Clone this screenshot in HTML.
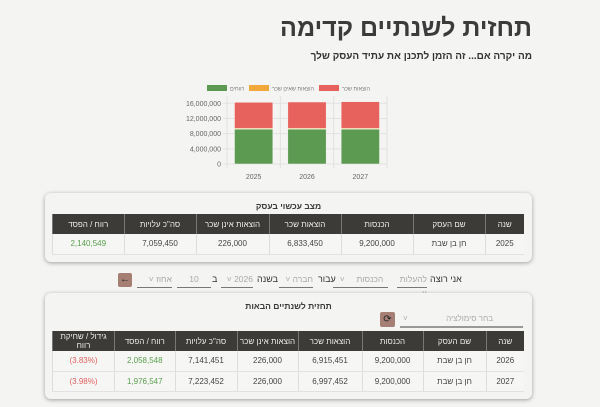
<!DOCTYPE html>
<html><head><meta charset="utf-8"><style>
*{box-sizing:border-box;margin:0;padding:0}
body{width:600px;height:407px;background:#f4f4f2;font-family:"Liberation Sans","Noto Sans CJK JP",sans-serif;color:#3a3a3a;position:relative;overflow:hidden}
.abs{position:absolute}
.card{position:absolute;background:#f4f4f2;border-radius:6px;box-shadow:0 1px 4px rgba(0,0,0,.35)}
table{position:absolute;border-collapse:collapse;direction:rtl;font-size:8px;table-layout:fixed}
th{background:#3d3b38;color:#eee;font-weight:normal;height:20px;border-left:1px solid #777}
td{height:20px;text-align:center;color:#444;border-left:1px solid #ddd;border-bottom:1px solid #e2e2e2;background:#f6f6f4}
.g{color:#5aa04e}.r{color:#e06262}
.ctl{position:absolute;top:272px;height:16px;font-size:8.5px;color:#aaa;border-bottom:1px solid #777;direction:rtl;text-align:right;line-height:14px}
.lbl{position:absolute;top:274px;font-size:9px;color:#333;direction:rtl}
</style></head><body>
<div class="abs" style="right:68px;top:14px;font-size:25px;font-weight:bold;direction:rtl;color:#3b3b3b">תחזית לשנתיים קדימה</div>
<div class="abs" style="right:68px;top:51px;font-size:10px;font-weight:bold;direction:rtl;color:#333">מה יקרה אם... זה הזמן לתכנן את עתיד העסק שלך</div>

<svg class="abs" style="left:180px;top:80px" width="220" height="110" id="chart"></svg>

<div class="card" style="left:45px;top:193px;width:487px;height:69px">
<div class="abs" style="left:0;right:0;top:8px;text-align:center;font-size:8.5px;font-weight:bold;direction:rtl">מצב עכשוי בעסק</div>
<table style="left:7px;top:21px;width:472px">
<colgroup><col style="width:39px"><col style="width:72px"><col style="width:72px"><col style="width:72px"><col style="width:73px"><col style="width:72px"><col></colgroup>
<tr><th>שנה</th><th>שם העסק</th><th>הכנסות</th><th>הוצאות שכר</th><th>הוצאות אינן שכר</th><th>סה"כ עלויות</th><th>רווח / הפסד</th></tr>
<tr><td>2025</td><td>חן בן שבת</td><td>9,200,000</td><td>6,833,450</td><td>226,000</td><td>7,059,450</td><td class="g">2,140,549</td></tr>
</table></div>

<div class="lbl" style="left:430px">אני רוצה</div>
<div class="ctl" style="left:397px;width:30px">להעלות ˅</div>
<div class="ctl" style="left:333px;width:55px">&nbsp;&nbsp;הכנסות&nbsp;&nbsp;&nbsp;&nbsp;&nbsp;˅</div>
<div class="lbl" style="left:318px">עבור</div>
<div class="ctl" style="left:279px;width:34px">חברה ˅</div>
<div class="lbl" style="left:257px">בשנה</div>
<div class="ctl" style="left:221px;width:32px">2026 ˅</div>
<div class="lbl" style="left:212px">ב</div>
<div class="ctl" style="left:177px;width:34px;text-align:center">10</div>
<div class="ctl" style="left:137px;width:35px">אחוז ˅</div>
<div class="abs" style="left:118px;top:273px;width:14px;height:14px;background:#a57f74;border-radius:2px;color:#222;font-size:10px;line-height:14px;text-align:center">←</div>

<div class="card" style="left:45px;top:293px;width:487px;height:106px">
<div class="abs" style="left:0;right:0;top:8px;text-align:center;font-size:8.5px;font-weight:bold;direction:rtl">תחזית לשנתיים הבאות</div>
<div class="abs" style="left:355px;top:19px;width:123px;height:16px;border-bottom:2px solid #999;font-size:8px;color:#aaa;line-height:14px;direction:rtl"><span style="position:absolute;right:30px">בחר סימולציה</span><span style="position:absolute;left:3px">˅</span></div>
<div class="abs" style="left:335px;top:19px;width:15px;height:15px;background:#a57f74;border-radius:2px;font-size:10px;line-height:15px;text-align:center;color:#222">⟳</div>
<table style="left:7px;top:38px;width:472px">
<colgroup><col style="width:38px"><col style="width:63px"><col style="width:61px"><col style="width:64px"><col style="width:61px"><col style="width:62px"><col></colgroup>
<tr><th>שנה</th><th>שם העסק</th><th>הכנסות</th><th>הוצאות שכר</th><th>הוצאות אינן שכר</th><th>סה"כ עלויות</th><th>רווח / הפסד</th><th style="width:62px">גידול / שחיקת רווח</th></tr>
<tr><td>2026</td><td>חן בן שבת</td><td>9,200,000</td><td>6,915,451</td><td>226,000</td><td>7,141,451</td><td class="g">2,058,548</td><td class="r">(3.83%)</td></tr>
<tr><td>2027</td><td>חן בן שבת</td><td>9,200,000</td><td>6,997,452</td><td>226,000</td><td>7,223,452</td><td class="g">1,976,547</td><td class="r">(3.98%)</td></tr>
</table></div>

<script>
const years=["2025","2026","2027"];
const profit=[9200000,9200000,9200000];
const nonSalary=[226000,226000,226000];
const salary=[6833450,6915451,6997452];
const ticks=[0,4000000,8000000,12000000,16000000];
const NS="http://www.w3.org/2000/svg";
const svg=document.getElementById("chart");
const x0=47,x1=207,y0=84,ymax=16000000,yPix=60.7;
const y=v=>y0-v/ymax*yPix;
const bw=(x1-x0)/years.length;
function mk(t,a){const e=document.createElementNS(NS,t);for(const k in a)e.setAttribute(k,a[k]);svg.appendChild(e);return e;}
ticks.forEach(t=>{
 const l=mk("line",{x1:x0-4,x2:x1,y1:y(t),y2:y(t),stroke:"#e2e2e2","stroke-width":1});
 
 
 const tx=mk("text",{x:x0-6,y:y(t)+2.5,"text-anchor":"end","font-size":7,fill:"#666"});
 tx.textContent=t.toLocaleString("en-US");
 
 
});
for(let i=0;i<=years.length;i++){const l=mk("line",{x1:x0+i*bw,x2:x0+i*bw,y1:y0-68,y2:y0+4,stroke:"#e2e2e2"});}
const series=[[profit,"#5b9a50","profit"],[nonSalary,"#f2a83a","non-salary"],[salary,"#e8625d","salary"]];
years.forEach((yr,i)=>{
 let base=0;
 series.forEach(([arr,c,n])=>{
  const r=mk("rect",{x:x0+i*bw+7.5,width:bw-15,y:y(base+arr[i]),height:y(base)-y(base+arr[i]),fill:c,stroke:"#f4f4f2","stroke-width":0.5});
  
  
  base+=arr[i];
 });
 const t=mk("text",{x:x0+i*bw+bw/2,y:y0+15,"text-anchor":"middle","font-size":7,fill:"#666"});
 t.textContent=yr;
 
 
});
const leg=[[27,"#5b9a50","רווחים"],[69,"#f2a83a","הוצאות שאינן שכר"],[139,"#e8625d","הוצאות שכר"]];
leg.forEach(([lx,c,lab])=>{
 const r=mk("rect",{x:lx,y:5,width:20,height:6,fill:c});
 
 
 const t=mk("text",{x:lx+23,y:10.5,"font-size":5.5,fill:"#777"});
 t.textContent=lab;
 
 
});
</script>
</body></html>
